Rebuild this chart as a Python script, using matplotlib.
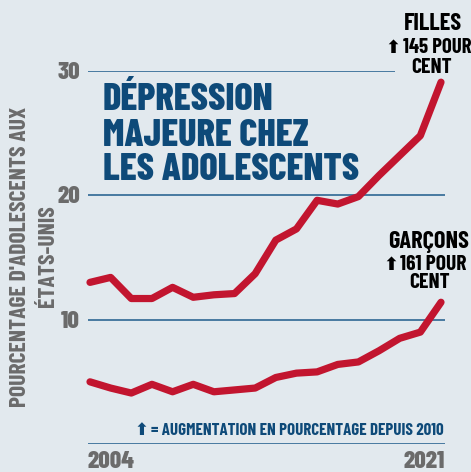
import matplotlib
matplotlib.use("Agg")
import matplotlib.pyplot as plt

years = list(range(2004, 2022))
filles = [13.0, 13.4, 11.7, 11.7, 12.6, 11.8, 12.0, 12.1, 13.7, 16.4, 17.3,
          19.6, 19.3, 19.9, 21.6, 23.2, 24.8, 29.1]
garcons = [5.0, 4.5, 4.1, 4.8, 4.2, 4.8, 4.2, 4.35, 4.5, 5.35, 5.7, 5.8,
           6.4, 6.6, 7.5, 8.5, 9.0, 11.4]
y_ticks = [10, 20, 30]
title_lines = ["DÉPRESSION", "MAJEURE CHEZ", "LES ADOLESCENTS"]

RED = "#c2152f"
BLUE = "#0e4a79"
GRID = "#1d5b8c"
GRAY = "#6b6b6b"
BG = "#e2e9ee"

COND = ["Barlow Condensed", "Saira SemiCondensed", "DejaVu Sans"]
ARROW = ["DejaVu Sans"]

W, H = 471, 472
fig = plt.figure(figsize=(W / 100, H / 100), dpi=100, facecolor=BG)


def px(x, y):
    # pixel position (from top-left) -> figure fraction
    return x / W, 1 - y / H


def label(x, y, s, size, color="black", ha="left", va="baseline",
          weight="bold", **kw):
    fx, fy = px(x, y)
    fig.text(fx, fy, s, ha=ha, va=va, color=color, fontsize=size,
             fontweight=weight, family=kw.pop("family", COND), **kw)


# axes box in pixels: x 88..445, y 71 (30) .. 444 (0)
ax = fig.add_axes([88 / W, (H - 444) / H, (445 - 88) / W, (444 - 71) / H])
ax.set_facecolor("none")
ppy = (441 - 90) / 17
ax.set_xlim(2004 - 2 / ppy, 2021 + 4 / ppy)
ax.set_ylim(0, 30)
for s in ax.spines.values():
    s.set_visible(False)
ax.set_xticks([])
ax.set_yticks([])

x0, x1 = ax.get_xlim()
ax.hlines([0, 10, 20], x0, x1, color=GRID, lw=1.1, zorder=1)
ax.hlines(30, x0, 2004 + (395 - 90) / ppy, color=GRID, lw=1.1, zorder=1)

for series in (filles, garcons):
    ax.plot(years, series, color=RED, lw=5.2, solid_capstyle="round",
            solid_joinstyle="round", clip_on=False, zorder=3)

# y tick labels
for v in y_ticks:
    label(80, 444 - v * (373 / 30) + 8, str(v), 18, GRAY, ha="right",
          weight=800)

# x tick labels
label(88, 468, "2004", 18, GRAY, weight=800)
label(445, 468, "2021", 18, GRAY, ha="right", weight=800)

# y axis label
label(20, 257, "POURCENTAGE D'ADOLESCENTS AUX", 17, GRAY, ha="center",
      va="center", rotation=90)
label(48, 256, "ÉTATS-UNIS", 17, GRAY, ha="center", va="center", rotation=90)

# title
for line, base in zip(title_lines, [110, 146, 180]):
    label(103, base, line, 27.5, BLUE, weight=800)

# series annotations
label(433, 30, "FILLES", 17.5, ha="center")
label(400, 53, "\u2b06", 13, ha="right", family=ARROW)
label(403, 53, "145 POUR", 15)
label(432, 73, "CENT", 15.5, ha="center")

label(429, 248, "GARÇONS", 17.5, ha="center")
label(398, 270, "\u2b06", 13, ha="right", family=ARROW)
label(400, 270, "161 POUR", 15.5)
label(430, 288, "CENT", 15.5, ha="center")

# footnote
label(148, 435, "\u2b06", 12, BLUE, ha="right", family=ARROW)
label(444, 435, "= AUGMENTATION EN POURCENTAGE DEPUIS 2010", 12.2, BLUE,
      ha="right")

fig.savefig("out.png", dpi=100, facecolor=BG)
